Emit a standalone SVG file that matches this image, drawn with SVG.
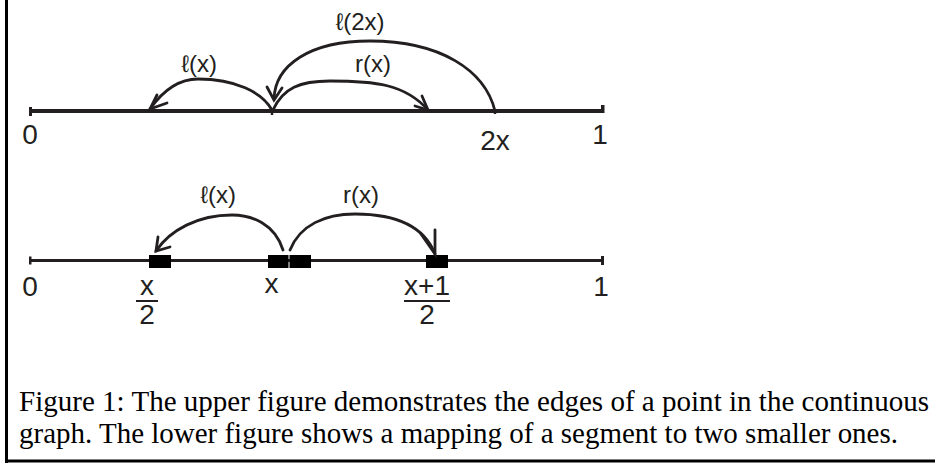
<svg xmlns="http://www.w3.org/2000/svg" width="935" height="463" viewBox="0 0 935 463">
<style>
.lbl{font-family:"Liberation Sans",Arial,sans-serif;fill:#231f20;text-anchor:middle}
.num{font-size:28px}
.fn{font-size:24px}
.cap{font-family:"Liberation Serif","Times New Roman",serif;font-size:29px;fill:#000}
.axis{stroke:#231f20;fill:none}
.arc{stroke:#231f20;fill:none;stroke-width:2.8;stroke-linecap:round}
.head{stroke:#231f20;fill:none;stroke-width:2.8;stroke-linecap:round;stroke-linejoin:miter}
.seg{fill:#000}
.bar{stroke:#231f20;stroke-width:2}
</style>
<rect width="935" height="463" fill="#fff"/>
<g id="frame">
<line x1="6.5" y1="0" x2="6.5" y2="463" stroke="#000" stroke-width="3"/>
<line x1="5" y1="461" x2="935" y2="461" stroke="#000" stroke-width="3"/>
</g>
<g id="upper-axis">
<line class="axis" x1="30" y1="111" x2="603" y2="111" stroke-width="4"/>
<rect x="29" y="107" width="3" height="9" fill="#231f20"/>
<rect x="601" y="105" width="3.5" height="8" fill="#231f20"/>
<line x1="272" y1="111" x2="272" y2="115" stroke="#231f20" stroke-width="2.5"/>
<line x1="495" y1="111" x2="495" y2="114" stroke="#231f20" stroke-width="2.5"/>
<text class="lbl num" x="30" y="144">0</text>
<text class="lbl num" x="495" y="150">2x</text>
<text class="lbl num" x="600" y="144">1</text>
</g>
<g id="lower-axis">
<line class="axis" x1="30" y1="260.5" x2="603" y2="260.5" stroke-width="3"/>
<rect x="29" y="256.5" width="2.5" height="8" fill="#231f20"/>
<rect x="601" y="256" width="3" height="9" fill="#231f20"/>
<rect class="seg" x="149" y="255" width="22" height="13"/>
<rect class="seg" x="268" y="255" width="20.5" height="13"/>
<rect class="seg" x="289.5" y="255" width="21.5" height="13"/>
<rect class="seg" x="426" y="255" width="22" height="13"/>
<text class="lbl num" x="30" y="296">0</text>
<text class="lbl num" x="271.5" y="293">x</text>
<text class="lbl num" x="147" y="295">x</text>
<line class="bar" x1="136" y1="301" x2="158" y2="301"/>
<text class="lbl num" x="147" y="324">2</text>
<text class="lbl num" x="427" y="295">x+1</text>
<line class="bar" x1="404" y1="301" x2="450" y2="301"/>
<text class="lbl num" x="427" y="324">2</text>
<text class="lbl num" x="601" y="296">1</text>
</g>
<g id="connectors">
<path class="arc" d="M 272 110 C 262 92, 235 79, 198 79 C 178 79, 162 92, 150 109"/>
<polyline class="head" points="157,95 150,109 167,103"/>
<path class="arc" d="M 273 110 C 283 88, 300 81, 330 81 C 375 81, 405 84, 428 110"/>
<polyline class="head" points="422,96 428,110 415,106"/>
<path class="arc" d="M 495 111 C 485 70, 440 41, 370 41 C 310 41, 275 65, 274 99"/>
<polyline class="head" points="267,87 274,100 282,88"/>
<path class="arc" d="M 283 250 C 275 224, 252 215, 232 215 C 198 215, 170 230, 156 251"/>
<polyline class="head" points="158,237 156,251 170,247"/>
<path class="arc" d="M 290 250 C 300 225, 325 214, 355 214 C 395 214, 424 226, 435 254" stroke-width="3.6"/>
<polyline class="head" points="421,234 435,254 435,230" stroke-width="3.4"/>
</g>
<g id="labels">
<text class="lbl fn" x="199" y="72">ℓ(x)</text>
<text class="lbl fn" x="360" y="30">ℓ(2x)</text>
<text class="lbl fn" x="373" y="72">r(x)</text>
<text class="lbl fn" x="218" y="203">ℓ(x)</text>
<text class="lbl fn" x="361" y="203">r(x)</text>
</g>
<g id="caption">
<text class="cap" x="19" y="411" textLength="910" lengthAdjust="spacingAndGlyphs">Figure 1: The upper figure demonstrates the edges of a point in the continuous</text>
<text class="cap" x="19" y="443" textLength="879" lengthAdjust="spacingAndGlyphs">graph. The lower figure shows a mapping of a segment to two smaller ones.</text>
</g>
</svg>
